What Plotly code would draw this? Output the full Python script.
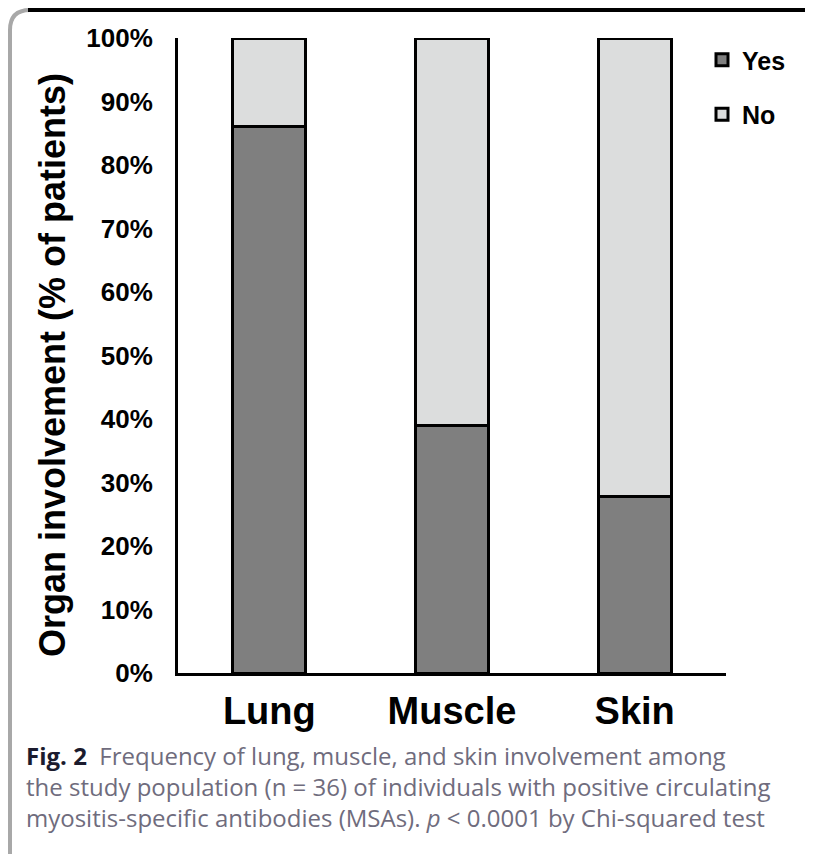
import plotly.graph_objects as go

organs = ["Lung", "Muscle", "Skin"]
yes_pct = [86.1, 38.9, 27.8]
no_pct = [13.9, 61.1, 72.2]
y_ticks = [0, 10, 20, 30, 40, 50, 60, 70, 80, 90, 100]
y_tick_labels = [f"{v}%" for v in y_ticks]

caption = (
    "<span style='color:#1b1b2e'><b>Fig. 2</b></span>  "
    "Frequency of lung, muscle, and skin involvement among<br>"
    "the study population (n = 36) of individuals with positive circulating<br>"
    "myositis-specific antibodies (MSAs). <i>p</i> &lt; 0.0001 by Chi-squared test"
)

# page is drawn with an 8px body margin, so work in page coords and shift
OFF = 8
W, H = 813 - OFF, 854 - OFF
L, R, T, B = 178 - OFF, 87, 38 - OFF, 181
pw, ph = W - L - R, H - T - B


def px(x):
    return (x - OFF - L) / pw


def py(y):
    return (H - B - (y - OFF)) / ph


fig = go.Figure()

fig.add_trace(
    go.Bar(
        x=organs,
        y=yes_pct,
        name="Yes",
        legendgroup="yes",
        marker=dict(color="#7f7f7f", line=dict(color="black", width=3)),
        width=0.4,
    )
)

fig.add_trace(
    go.Bar(
        x=organs,
        y=no_pct,
        name="No",
        legendgroup="no",
        marker=dict(color="#dcdddd", line=dict(color="black", width=3)),
        width=0.4,
    )
)

font_main = "Liberation Sans, Arial, sans-serif"

fig.update_layout(
    width=W,
    height=H,
    barmode="stack",
    plot_bgcolor="white",
    paper_bgcolor="white",
    margin=dict(l=L, r=R, t=T, b=B, pad=0, autoexpand=False),
    font=dict(family=font_main, color="black"),
    legend=dict(
        x=px(702),
        y=py(37),
        xanchor="left",
        yanchor="top",
        traceorder="grouped",
        tracegroupgap=19,
        font=dict(size=25, family=font_main, color="black", weight="bold"),
        itemwidth=30,
        bgcolor="rgba(0,0,0,0)",
    ),
    showlegend=True,
)

fig.update_xaxes(
    showline=True,
    linecolor="black",
    linewidth=3,
    ticks="",
    showgrid=False,
    tickfont=dict(size=38, family=font_main, weight="bold"),
    ticklabelstandoff=2,
)

fig.update_yaxes(
    range=[0, 100],
    tickvals=y_ticks,
    ticktext=y_tick_labels,
    showline=True,
    linecolor="black",
    linewidth=3,
    ticks="",
    showgrid=False,
    zeroline=False,
    tickfont=dict(size=26, family=font_main, weight="bold"),
    ticklabelstandoff=17,
)

# y axis title, placed where the original sits
fig.add_annotation(
    text="<b>Organ involvement (% of patients)</b>",
    xref="paper",
    yref="paper",
    x=px(52),
    y=py(365),
    xanchor="center",
    yanchor="middle",
    textangle=-90,
    showarrow=False,
    font=dict(size=36, family=font_main, color="black"),
)

# caption below the chart
fig.add_annotation(
    text=caption,
    xref="paper",
    yref="paper",
    x=px(24),
    y=py(737),
    xanchor="left",
    yanchor="top",
    align="left",
    showarrow=False,
    font=dict(size=24, family="Open Sans, sans-serif", color="#6f6c7d"),
)

# frame: black top rule and grey left rule with rounded corner
fig.add_shape(
    type="path",
    xref="paper",
    yref="paper",
    path=(
        f"M {px(10)} {py(854)} L {px(10)} {py(30)} "
        f"Q {px(10)} {py(10)} {px(30)} {py(10)}"
    ),
    line=dict(color="#a8a8a8", width=4),
)
fig.add_shape(
    type="line",
    xref="paper",
    yref="paper",
    x0=px(28),
    x1=px(813),
    y0=py(10),
    y1=py(10),
    line=dict(color="black", width=4),
)

fig.write_html("out.html")
